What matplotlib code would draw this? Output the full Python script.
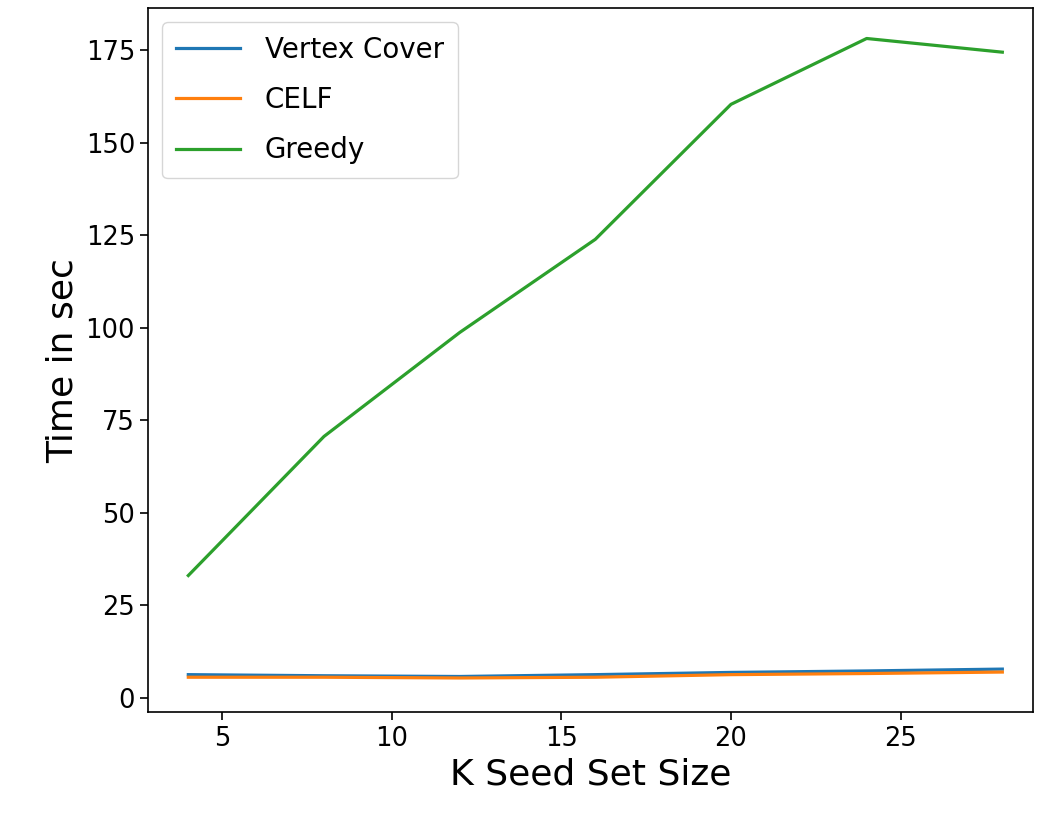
import matplotlib
matplotlib.use("Agg")
import matplotlib.pyplot as plt

# Tamanho do conjunto semente
k_values = [4, 8, 12, 16, 20, 24, 28]

# Tempos (s)
vertex_cover = [6.2, 5.9, 5.7, 6.2, 6.8, 7.2, 7.7]
celf = [5.5, 5.5, 5.3, 5.5, 6.2, 6.5, 6.9]
greedy = [33.0, 70.6, 98.7, 123.9, 160.4, 178.2, 174.5]

fig = plt.figure(figsize=(10.37, 8.16), dpi=100)
ax = fig.add_axes([0.143, 0.127, 0.853, 0.863])

ax.plot(k_values, vertex_cover, color='#1f77b4', lw=2.3, label='Vertex Cover')
ax.plot(k_values, celf, color='#ff7f0e', lw=2.3, label='CELF')
ax.plot(k_values, greedy, color='#2ca02c', lw=2.3, label='Greedy')

ax.set_xlim(2.82, 28.9)
ax.set_ylim(-4.0, 186.4)
ax.set_xticks([5, 10, 15, 20, 25])
ax.set_yticks([0, 25, 50, 75, 100, 125, 150, 175])
ax.tick_params(axis='both', labelsize=18.5, length=6, width=1.2)
for s in ax.spines.values():
    s.set_linewidth(1.2)

ax.set_xlabel('K Seed Set Size', fontsize=26)
ax.set_ylabel('Time in sec', fontsize=26)

ax.legend(loc='upper left', fontsize=20, handlelength=2.3, handletextpad=0.9,
          labelspacing=0.8, borderpad=0.5)

plt.savefig('out.png', dpi=100)
